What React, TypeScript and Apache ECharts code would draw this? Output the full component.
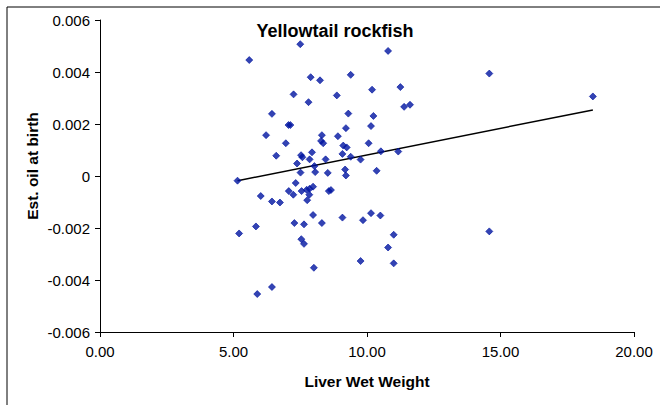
import React, { useEffect, useRef } from "react";
import * as echarts from "echarts";

const liverWeight = [
  5.15, 5.59, 7.5, 7.89, 8.24, 7.25, 7.81, 6.44, 7.06, 7.13, 6.22, 8.31, 8.28, 8.36, 6.96, 6.6,
  7.53, 7.58, 7.94, 7.85, 8.45, 7.38, 8.03, 7.51, 8.06, 8.53, 7.33, 7.07, 7.24, 7.55, 7.74, 7.85,
  7.98, 7.84, 7.76, 8.57, 8.65, 6.02, 6.44, 6.74, 7.98, 7.28, 7.64, 8.31, 5.84, 5.21, 7.54, 7.64,
  8.01, 6.44, 5.89, 10.79, 9.39, 10.19, 11.25, 8.87, 11.39, 11.61, 9.3, 10.24, 9.21, 10.15, 8.91,
  10.06, 9.11, 9.24, 9.08, 9.39, 10.52, 11.17, 9.76, 9.18, 9.21, 10.36, 9.08, 9.85, 10.15, 10.5,
  11.0, 10.79, 9.76, 11.0, 14.58, 18.46, 14.58,
];
const oilAtBirth = [
  -0.00018, 0.00446, 0.00507, 0.0038, 0.00368, 0.00314, 0.00284, 0.00239, 0.00196, 0.00196,
  0.00157, 0.00157, 0.00135, 0.00126, 0.00126, 0.00078, 0.0008, 0.00072, 0.00091, 0.00064,
  0.00064, 0.00048, 0.00038, 0.00013, 0.00015, 0.00012, -0.00027, -0.00058, -0.00072, -0.00058,
  -0.00053, -0.00049, -0.00041, -0.00072, -0.00093, -0.00058, -0.00054, -0.00077, -0.00098,
  -0.00102, -0.0015, -0.00181, -0.00186, -0.00181, -0.00194, -0.00221, -0.00243, -0.00261,
  -0.00353, -0.00427, -0.00454, 0.00481, 0.00389, 0.00332, 0.00342, 0.0031, 0.00266, 0.00274,
  0.0024, 0.00231, 0.00184, 0.00192, 0.00153, 0.00126, 0.00117, 0.0011, 0.00085, 0.00074,
  0.00095, 0.00094, 0.00063, 0.00025, 0.00002, 0.0002, -0.0016, -0.0017, -0.00143, -0.00152,
  -0.00226, -0.00275, -0.00327, -0.00336, 0.00394, 0.00306, -0.00213,
];
const trendX = [5.15, 18.46];
const trendY = [-0.00018, 0.00254];

const xTicks = { min: 0, max: 20, interval: 5 };
const yTicks = { min: -0.006, max: 0.006, interval: 0.002 };

const FONT = "'Liberation Sans', Arial, sans-serif";

export default function App() {
  const ref = useRef<HTMLDivElement>(null);
  useEffect(() => {
    if (!ref.current) return;
    const chart = echarts.init(ref.current, undefined, { renderer: "svg" });
    chart.setOption({
      animation: false,
      backgroundColor: "#ffffff",
      grid: { left: 100, right: 26, top: 20, bottom: 73, containLabel: false },
      xAxis: {
        type: "value",
        min: xTicks.min,
        max: xTicks.max,
        interval: xTicks.interval,
        axisLine: { show: true, onZero: false, lineStyle: { color: "#000", width: 1 } },
        axisTick: { show: true, inside: false, length: 5, lineStyle: { color: "#000" } },
        splitLine: { show: false },
        axisLabel: {
          color: "#000",
          fontFamily: FONT,
          fontSize: 15,
          margin: 12,
          formatter: (v: number) => v.toFixed(2),
        },
      },
      yAxis: {
        type: "value",
        min: yTicks.min,
        max: yTicks.max,
        interval: yTicks.interval,
        axisLine: { show: true, onZero: false, lineStyle: { color: "#000", width: 1 } },
        axisTick: { show: true, inside: false, length: 5, lineStyle: { color: "#000" } },
        splitLine: { show: false },
        axisLabel: {
          color: "#000",
          fontFamily: FONT,
          fontSize: 15,
          margin: 10,
          formatter: (v: number) => (Math.abs(v) < 1e-9 ? "0" : v.toFixed(3)),
        },
      },
      series: [
        {
          type: "scatter",
          symbol: "diamond",
          symbolSize: 7,
          itemStyle: { color: "#0014a0", borderColor: "#0014a0", borderWidth: 0.8 },
          data: liverWeight.map((x, i) => [x, oilAtBirth[i]]),
          z: 3,
        },
        {
          type: "line",
          symbol: "none",
          lineStyle: { color: "#000", width: 1.5 },
          data: trendX.map((x, i) => [x, trendY[i]]),
          z: 2,
        },
      ],
      graphic: [
        {
          type: "rect",
          shape: { x: 7, y: 7, width: 700, height: 450 },
          style: { fill: "none", stroke: "#000", lineWidth: 1 },
          silent: true,
        },
        {
          type: "text",
          x: 335,
          y: 31,
          style: {
            text: "Yellowtail rockfish",
            font: `bold 18px ${FONT}`,
            fill: "#000",
            align: "center",
            verticalAlign: "middle",
          },
        },
        {
          type: "text",
          x: 367,
          y: 381,
          style: {
            text: "Liver Wet Weight",
            font: `bold 15.5px ${FONT}`,
            fill: "#000",
            align: "center",
            verticalAlign: "middle",
          },
        },
        {
          type: "text",
          x: 32,
          y: 166,
          rotation: Math.PI / 2,
          style: {
            text: "Est. oil at birth",
            font: `bold 15.5px ${FONT}`,
            fill: "#000",
            align: "center",
            verticalAlign: "middle",
          },
        },
      ],
    });
    return () => chart.dispose();
  }, []);
  return (
    <div
      ref={ref}
      style={{ position: "fixed", left: 0, top: 0, width: 660, height: 405 }}
    />
  );
}
